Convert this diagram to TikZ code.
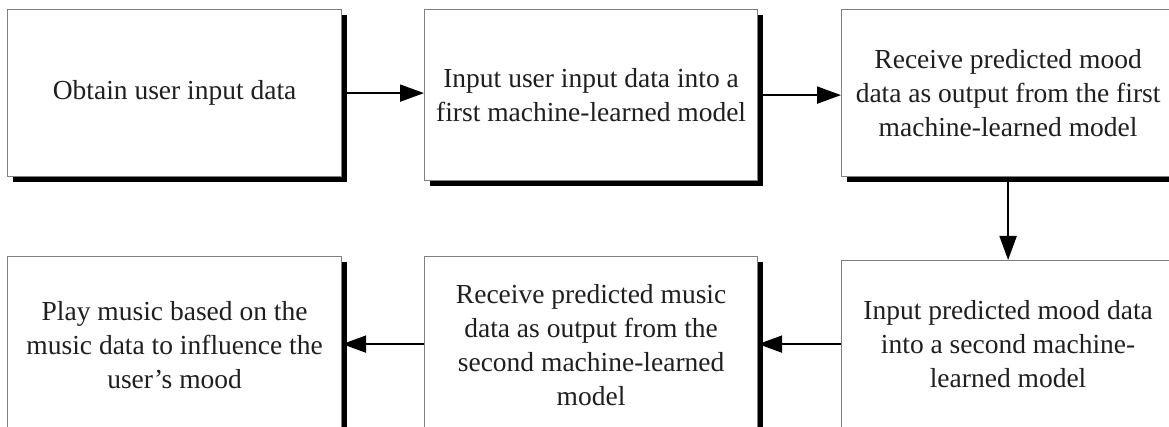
\documentclass[tikz,border=0pt]{standalone}
\usepackage{fontspec}
\setmainfont{Liberation Serif}
\usetikzlibrary{arrows.meta,shadows}

\tikzset{
  stepbox/.style={
    draw=black!50, line width=1.2pt, fill=white, rectangle,
    anchor=north west, align=center, inner sep=0pt,
    font=\fontsize{27.5pt}{34pt}\selectfont, text=black!88,
    general shadow={fill=black, shadow xshift=5pt, shadow yshift=-5pt}
  },
  flow/.style={line width=2pt, -{Triangle[length=24pt,width=17pt]}}
}

\begin{document}
\begin{tikzpicture}[x=1pt,y=1pt]
  \useasboundingbox (0,0) rectangle (1169,-427);
  \clip (0,0) rectangle (1169,-427);

  % upper row
  \node[stepbox, minimum width=334pt, minimum height=167pt] (b1) at (7,-9)
    {Obtain user input data};
  \node[stepbox, minimum width=333pt, minimum height=171pt] (b2) at (424,-9)
    {Input user input data into a\\first machine-learned model};
  \node[stepbox, minimum width=333pt, minimum height=167pt] (b3) at (841,-9)
    {Receive predicted mood\\data as output from the first\\machine-learned model};

  % lower row
  \node[stepbox, minimum width=334pt, minimum height=176pt] (b4) at (7,-256)
    {Play music based on the\\music data to influence the\\user’s mood};
  \node[stepbox, minimum width=333pt, minimum height=176pt] (b5) at (424,-256)
    {Receive predicted music\\data as output from the\\second machine-learned\\model};
  \node[stepbox, minimum width=333pt, minimum height=167pt] (b6) at (841,-260)
    {Input predicted mood data\\into a second machine-\\learned model};

  % connectors
  \draw[flow] (b1.east) -- (b2.west |- b1.east);
  \draw[flow] (b2.east) -- (b3.west |- b2.east);
  \draw[flow] (b3.south) -- (b6.north);
  \draw[flow] (b6.west) -- (b5.east |- b6.west);
  \draw[flow] (b5.west |- b6.west) -- (b4.east |- b6.west);
\end{tikzpicture}
\end{document}
